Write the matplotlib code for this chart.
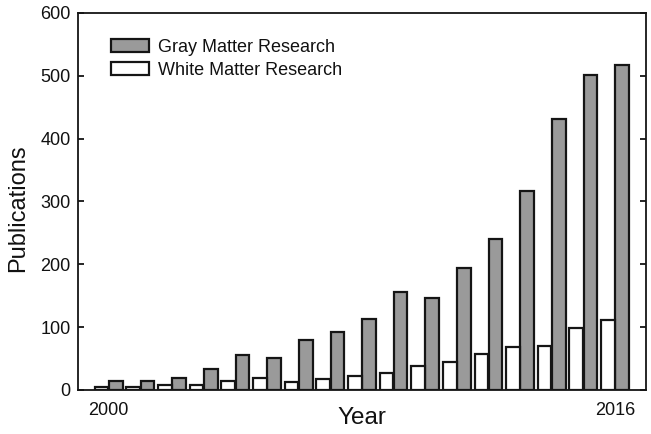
import numpy as np
import matplotlib
matplotlib.use("Agg")
import matplotlib.pyplot as plt

plt.rcParams["font.family"] = ["Liberation Sans", "DejaVu Sans"]

years = list(range(2000, 2017))
gray_matter = [14, 15, 19, 33, 55, 51, 80, 93, 113, 156, 146, 194, 240, 317, 431, 501, 517]
white_matter = [4, 4, 8, 8, 14, 19, 13, 17, 23, 27, 38, 45, 57, 68, 70, 98, 111]
year_labels = ["2000", "2016"]

text_col = "#111111"
edge_col = "#151515"

fig = plt.figure(figsize=(6.51, 4.34), dpi=100)
ax = fig.add_axes([0.1194, 0.1014, 0.873, 0.8687])

x = np.arange(len(years))
w = 0.43
ax.bar(x + 0.225, gray_matter, width=w, color="#9a9a9a", edgecolor=edge_col,
       linewidth=1.6, label="Gray Matter Research")
ax.bar(x - 0.225, white_matter, width=w, color="white", edgecolor=edge_col,
       linewidth=1.6, label="White Matter Research")

ax.set_xlim(-0.98, 16.98)
ax.set_ylim(0, 600)
ax.set_yticks(range(0, 601, 100))
ax.set_xticks([0, 16])
ax.set_xticklabels(year_labels)

for s in ax.spines.values():
    s.set_linewidth(1.3)
    s.set_color(edge_col)

ax.tick_params(axis="y", direction="in", length=4, width=1.3, right=True,
               labelsize=13, pad=5, colors=edge_col, labelcolor=text_col)
ax.tick_params(axis="x", length=0, labelsize=13, pad=8.5, labelcolor=text_col)

ax.set_xlabel("Year", fontsize=17.5, color=text_col)
ax.xaxis.set_label_coords(0.5, -0.045)
ax.set_ylabel("Publications", fontsize=17, color=text_col)
ax.yaxis.set_label_coords(-0.085, 0.483)

handles, labels = ax.get_legend_handles_labels()
ax.legend(handles, labels, loc="upper left", bbox_to_anchor=(0.058, 0.932),
          frameon=False, fontsize=13, handlelength=2.1, handleheight=0.75,
          handletextpad=0.5, labelspacing=0.35, borderpad=0, borderaxespad=0,
          labelcolor=text_col)

fig.savefig("out.png", dpi=100)
